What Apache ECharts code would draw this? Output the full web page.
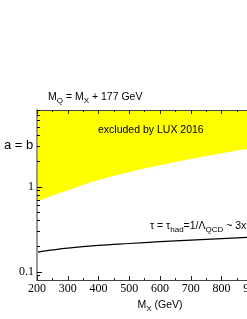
<!DOCTYPE html>
<html><head><meta charset="utf-8">
<script src="https://cdn.jsdelivr.net/npm/echarts@6/dist/echarts.min.js"></script>
<style>html,body{margin:0;padding:0;background:#fff}#c{width:247px;height:319px}</style>
</head><body><div id="c"></div>
<script>
const massX = [200, 250, 300, 400, 500, 600, 700, 800, 900, 1000];
const luxBound = [0.675, 0.785, 0.906, 1.20, 1.486, 1.786, 2.12, 2.47, 2.84, 3.22];
const tauLine = [0.170, 0.1805, 0.190, 0.204, 0.215, 0.226, 0.236, 0.246, 0.256, 0.265];
const yMajor = [0.1, 1];
const yMinor = [0.09, 0.2, 0.3, 0.4, 0.5, 0.6, 0.7, 0.8, 0.9, 2, 3, 4, 5, 6, 7, 8];

const SANS = 'Liberation Sans';
const SERIF = 'Liberation Serif';
const rich = {
  m: {fontFamily: SANS, fontSize: 10.5, lineHeight: 12, verticalAlign: 'top', color: '#000'},
  s: {fontFamily: SANS, fontSize: 8, lineHeight: 8, padding: [5, 0, 0, 0], verticalAlign: 'top', color: '#000'}
};

const chart = echarts.init(document.getElementById('c'), null, {renderer: 'canvas'});
const xBase = {
  type: 'value', min: 200, max: 1000, interval: 100, z: 10,
  splitLine: {show: false},
  axisLine: {lineStyle: {color: '#444', width: 1}},
  axisTick: {inside: true, length: 4, lineStyle: {color: '#222'}},
  minorTick: {show: true, splitNumber: 2, length: 2, lineStyle: {color: '#222'}},
};
const yBase = {
  type: 'log', logBase: 10, min: 0.08, max: 8, z: 10,
  splitLine: {show: false}, minorSplitLine: {show: false}
};
chart.setOption({
  animation: false,
  grid: {left: 37, top: 110, right: -36, bottom: 39, outerBoundsMode: 'none', containLabel: false},
  xAxis: [
    Object.assign({}, xBase, {
      position: 'bottom',
      axisLabel: {fontFamily: SERIF, fontSize: 12, color: '#000', margin: 3},
      name: '{m|M}{s|X}{m| (GeV)}', nameLocation: 'middle', nameGap: 12,
      nameTextStyle: {rich: rich}
    }),
    Object.assign({}, xBase, {position: 'top', axisLabel: {show: false}})
  ],
  yAxis: [
    Object.assign({}, yBase, {
      position: 'left',
      axisLine: {lineStyle: {color: '#999', width: 2}},
      axisTick: {inside: true, length: 5, customValues: yMajor, lineStyle: {color: '#000'}},
      axisLabel: {customValues: yMajor, fontFamily: SERIF, fontSize: 12, color: '#000', margin: 3,
        formatter: v => String(Number(v.toPrecision(3)))}
    }),
    Object.assign({}, yBase, {
      position: 'left',
      axisLine: {show: false},
      axisTick: {inside: true, length: 3, customValues: yMinor, lineStyle: {color: '#000'}},
      axisLabel: {show: false}
    })
  ],
  series: [
    {
      name: 'excluded by LUX 2016', type: 'line', xAxisIndex: 0, yAxisIndex: 0,
      data: massX.map((m, i) => [m, luxBound[i]]),
      smooth: 0.4, symbol: 'none',
      lineStyle: {width: 0},
      areaStyle: {color: '#ffff00', opacity: 1, origin: 'end'},
      z: 1
    },
    {
      name: 'tau', type: 'line', xAxisIndex: 0, yAxisIndex: 0,
      data: massX.map((m, i) => [m, tauLine[i]]),
      smooth: 0.4, symbol: 'none',
      lineStyle: {color: '#000', width: 1.2},
      z: 3
    }
  ],
  graphic: [
    {type: 'text', left: 48, top: 92, z: 10,
      style: {text: '{m|M}{s|Q}{m| = M}{s|X}{m| + 177 GeV}', rich: rich}},
    {type: 'text', left: 98, top: 125, z: 10,
      style: {text: 'excluded by LUX 2016', fontFamily: SANS, fontSize: 10.5, fill: '#000'}},
    {type: 'text', left: 4, top: 139, z: 10,
      style: {text: 'a = b', fontFamily: SANS, fontSize: 13, fill: '#000'}},
    {type: 'text', left: 150, top: 221, z: 10,
      style: {text: '{m|τ = τ}{s|had}{m|=1/Λ}{s|QCD}{m| ~ 3x10}{s|-24}{m| s}', rich: rich}}
  ]
});
</script></body></html>
